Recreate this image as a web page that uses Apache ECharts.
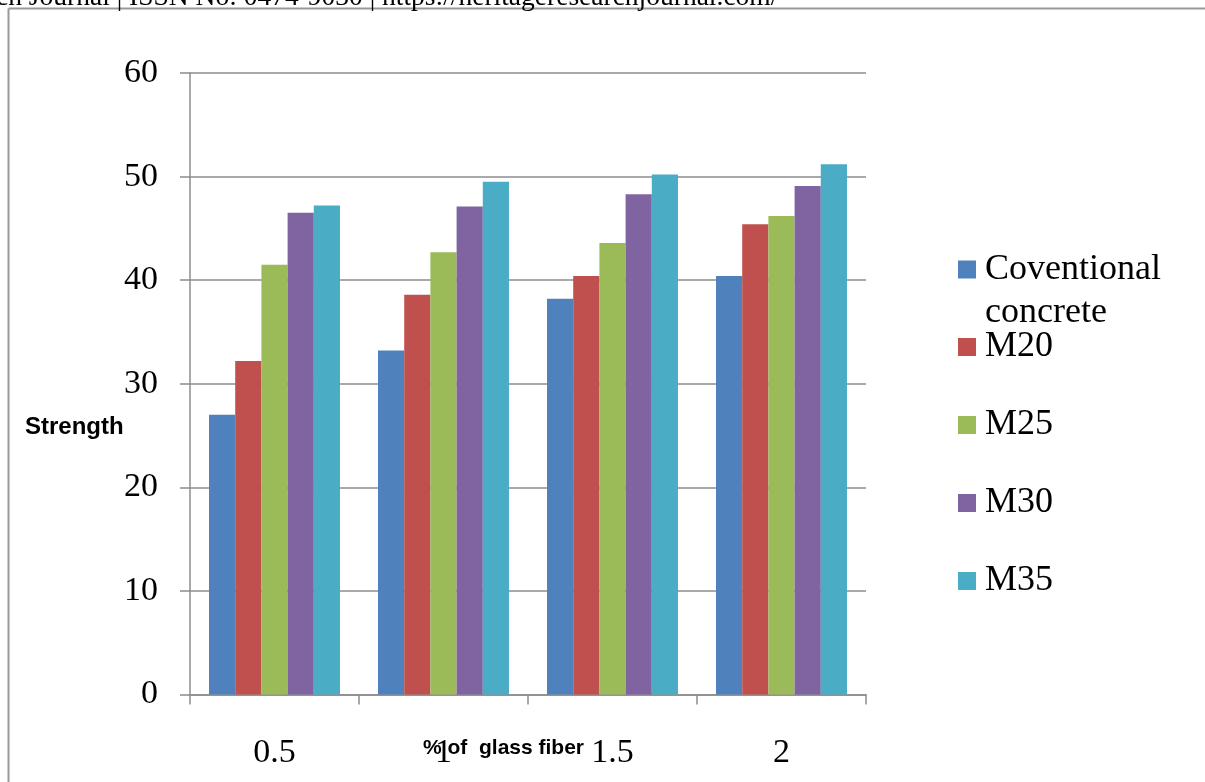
<!DOCTYPE html>
<html>
<head>
<meta charset="utf-8">
<script src="https://cdn.jsdelivr.net/npm/echarts@6/dist/echarts.min.js"></script>
<style>
  html, body { margin: 0; padding: 0; background: #fff; }
  #chart { width: 1205px; height: 782px; }
</style>
</head>
<body>
<div id="chart"></div>
<script>
const categories = ['0.5', '1', '1.5', '2'];
const seriesNames = ['Coventional concrete', 'M20', 'M25', 'M30', 'M35'];
const conventional = [27.0, 33.2, 38.2, 40.4];
const m20 = [32.2, 38.6, 40.4, 45.4];
const m25 = [41.5, 42.7, 43.6, 46.2];
const m30 = [46.5, 47.1, 48.3, 49.1];
const m35 = [47.2, 49.5, 50.2, 51.2];
const yTicks = { min: 0, max: 60, interval: 10 };
const colors = ['#4F81BD', '#C0504D', '#9BBB59', '#8064A2', '#4BACC6'];
const values = [conventional, m20, m25, m30, m35];

const serif = '"Liberation Serif", "Times New Roman", serif';
const sans = '"Liberation Sans", Arial, sans-serif';
const gridColor = '#8c8c8c';

const chart = echarts.init(document.getElementById('chart'));
chart.setOption({
  animation: false,
  backgroundColor: '#ffffff',
  color: colors,
  grid: { left: 190, right: 339, top: 73, bottom: 87.5, containLabel: false },
  xAxis: {
    type: 'category',
    data: categories,
    axisLine: { lineStyle: { color: gridColor, width: 1.5 } },
    axisTick: { show: true, length: 10, lineStyle: { color: gridColor, width: 1.5 } },
    axisLabel: { margin: 42, color: '#000', fontFamily: serif, fontSize: 34 }
  },
  yAxis: {
    type: 'value',
    min: yTicks.min, max: yTicks.max, interval: yTicks.interval,
    axisLine: { show: true, lineStyle: { color: gridColor, width: 1.5 } },
    axisTick: { show: true, length: 10, lineStyle: { color: gridColor, width: 1.5 } },
    splitLine: { lineStyle: { color: gridColor, width: 1.5 } },
    axisLabel: { margin: 32, color: '#000', fontFamily: serif, fontSize: 34 }
  },
  legend: [
    {
      orient: 'vertical', left: 958, top: 205, padding: 0,
      itemWidth: 18, itemHeight: 18, icon: 'rect',
      data: [seriesNames[0]],
      formatter: function () { return '\u00a0\nCoventional\nconcrete'; },
      textStyle: { color: '#000', fontFamily: serif, fontSize: 36, lineHeight: 43, padding: [0, 0, 0, 4] }
    },
    {
      orient: 'vertical', left: 958, top: 329, padding: 0,
      itemWidth: 18, itemHeight: 18, icon: 'rect', itemGap: 42,
      data: seriesNames.slice(1),
      textStyle: { color: '#000', fontFamily: serif, fontSize: 36, lineHeight: 36, padding: [0, 0, 0, 4] }
    }
  ],
  series: seriesNames.map(function (name, i) {
    return {
      name: name,
      type: 'bar',
      data: values[i],
      barGap: '0%',
      barCategoryGap: '22.5%',
      itemStyle: { color: colors[i] }
    };
  }),
  graphic: [
    {
      type: 'line', silent: true,
      shape: { x1: 8.5, y1: 8.5, x2: 1205, y2: 8.5 },
      style: { stroke: '#999', lineWidth: 2 }
    },
    {
      type: 'line', silent: true,
      shape: { x1: 8.5, y1: 8.5, x2: 8.5, y2: 782 },
      style: { stroke: '#999', lineWidth: 2 }
    },
    {
      type: 'text', silent: true, left: -4, top: -16,
      style: { text: 'ch Journal | ISSN No: 0474-9030 | https://heritageresearchjournal.com/', fontFamily: serif, fontSize: 27.5, fill: '#000' }
    },
    {
      type: 'text', silent: true, left: 25, top: 415,
      style: { text: 'Strength', fontFamily: sans, fontWeight: 'bold', fontSize: 24, fill: '#000' }
    },
    {
      type: 'text', silent: true, left: 423, top: 738,
      style: { text: '% of  glass fiber', fontFamily: sans, fontWeight: 'bold', fontSize: 21, fill: '#000' }
    }
  ]
});
</script>
</body>
</html>
